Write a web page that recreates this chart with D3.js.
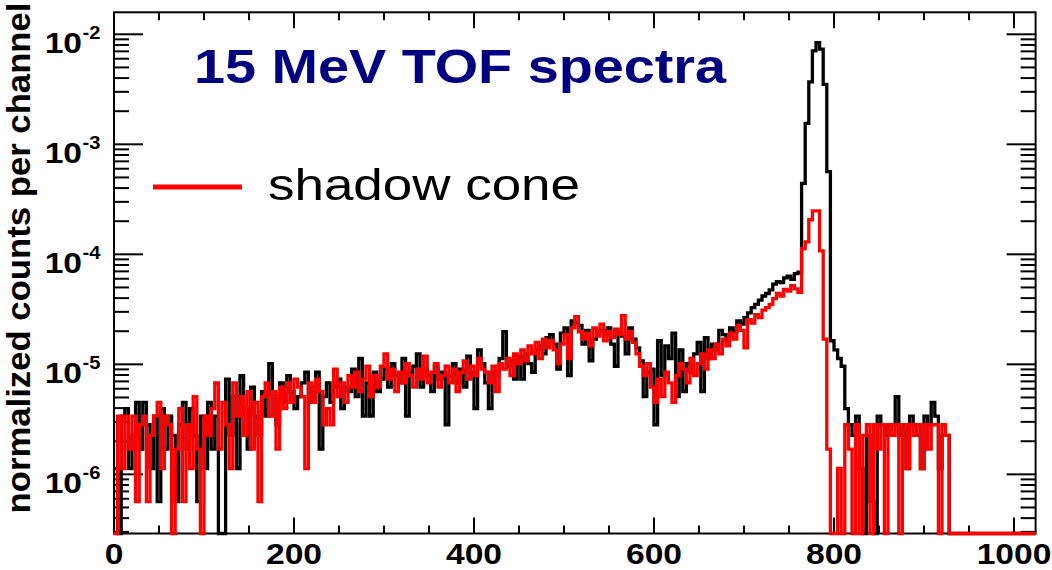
<!DOCTYPE html>
<html>
<head>
<meta charset="utf-8">
<script src="https://cdn.jsdelivr.net/npm/d3@7"></script>
<style>
  body { margin: 0; background: #fff; }
  text { font-family: "Liberation Sans", Arial, sans-serif; }
</style>
</head>
<body>
<svg id="chart" width="1052" height="570"></svg>
<script>
// 1024 TOF channels, histogrammed in 4-channel bins (256 bins).
const binWidth = 4;
const nChannels = 1024;
// normalization applied to raw counts -> "normalized counts per channel"
const countScale = 5.65e-7;

// full spectrum (black), raw counts per bin
const fullCounts = [
  2,0,6,7,2,4,8,3,8,5, 2,6,1,7,3,6,4,1,5,8, 3,7,4,1,6,2,8,3,6,0,
  0,13,4,9,2,14,7,3,11,6, 4,10,6,18,9,5,12,8,14,10, 7,
  9,12,15,8,11,15,3,9,12,8, 11,13,7,11,10,16,9,20,6,12, 6,15,10,13,16,11,18,14,12,20,
  6,15,17,22,11,16,14,10,17,13, 15,5,14,18,12,16,11,21,15,7, 24,18,
  12,7,15,14,20,35,17,19,13,21, 13,22,18,15,24,26,22,31,33,27, 16,34,38,14,44,42,40,27,36,19,
  30,35,36,33,38,27,17,35,32,22, 38,30,25,19,9,15,16,5,29,14, 26,20,34,9,24,
  10,18,15,22,28,10,31,20,27,24, 36,33,29,38,35,44,41,47,52,58, 62,68,74,78,84,95,100,98,108,112, 105,118,122,
  780,2740,6550,12500,14870,13000,6200,1000,29,
  24,20,17,7,5,4,6,2,0,4, 1,0,6,5,4,5,5,9,4,5, 2,6,5,4,2,6,5,8,6,2, 4,4,
  0,0,0,0,0,0,0,0,0,0, 0,0,0,0,0,0,0,0,0,0, 0,0,0,0
];

// shadow cone spectrum (red), raw counts per bin
const coneCounts = [
  0,6,2,6,3,6,1,5,6,1, 4,6,8,2,6,5,0,3,7,1, 5,2,9,3,0,6,4,7,12,3,
  8,5,2,12,6,9,4,10,3,8, 1,9,12,6,10,3,11,7,12,8, 13,
  11,9,2,12,8,13,10,5,7,5, 16,9,12,8,14,11,15,10,13,17, 9,14,11,17,22,13,16,10,15,12,
  18,14,11,16,13,21,12,15,18,11, 14,17,12,16,10,15,19,13,17,14, 20,16,
  15,12,17,10,18,16,20,14,22,18, 24,19,26,22,28,20,30,25,29,24, 18,27,33,20,38,48,35,30,34,26,
  38,32,41,29,35,31,37,33,49,30, 35,28,22,17,14,18,11,8,13,9, 15,12,8,14,18,
  16,12,20,14,18,22,16,24,20,27, 22,30,26,34,30,40,36,25,45,42, 50,47,55,58,62,70,78,74,85,82, 92,86,80,
  200,230,365,440,440,190,30,3,0,
  0,2,0,5,3,0,5,0,4,5, 0,5,3,5,0,5,4,5,0,5, 2,5,4,5,2,5,3,5,5,0, 5,4,
  0,0,0,0,0,0,0,0,0,0, 0,0,0,0,0,0,0,0,0,0, 0,0,0,0
];

const xMajorTicks = [0, 200, 400, 600, 800, 1000];
const xMinorStep = 50;
const yDecadeExponents = [-6, -5, -4, -3, -2];
const yDomain = [2.9e-7, 1.585e-2];

const titleText = "15 MeV TOF spectra";
const legendLabel = "shadow cone";
const yTitle = "normalized counts per channel";

const svg = d3.select("#chart");
const frame = { left: 114, right: 1035.6, top: 12.3, bottom: 533.5 };

const x = d3.scaleLinear().domain([0, nChannels]).range([frame.left, frame.right]);
const y = d3.scaleLog().domain(yDomain).range([frame.bottom, frame.top]);

// ---- frame ----
svg.append("rect")
  .attr("x", frame.left).attr("y", frame.top)
  .attr("width", frame.right - frame.left)
  .attr("height", frame.bottom - frame.top)
  .attr("fill", "none").attr("stroke", "#000").attr("stroke-width", 2);

const ticks = svg.append("g").attr("stroke", "#000").attr("stroke-width", 2);

// x ticks on bottom and top edges
const xMinor = d3.range(0, nChannels + 1, xMinorStep).filter(v => !xMajorTicks.includes(v));
function xTick(v, len) {
  ticks.append("line").attr("x1", x(v)).attr("x2", x(v))
    .attr("y1", frame.bottom).attr("y2", frame.bottom - len);
  ticks.append("line").attr("x1", x(v)).attr("x2", x(v))
    .attr("y1", frame.top).attr("y2", frame.top + len);
}
xMajorTicks.forEach(v => xTick(v, 16));
xMinor.forEach(v => xTick(v, 8));

// y ticks on left and right edges (log decades + 2..9 minors)
function yTick(v, len) {
  ticks.append("line").attr("y1", y(v)).attr("y2", y(v))
    .attr("x1", frame.left).attr("x2", frame.left + len);
  ticks.append("line").attr("y1", y(v)).attr("y2", y(v))
    .attr("x1", frame.right).attr("x2", frame.right - len);
}
const [lo, hi] = yDomain;
for (let e = -7; e <= -2; e++) {
  for (let k = 1; k <= 9; k++) {
    const v = k * Math.pow(10, e);
    if (v < lo || v > hi) continue;
    yTick(v, k === 1 ? 29 : 15);
  }
}

// ---- tick labels ----
const xLabels = svg.append("g");
xMajorTicks.forEach(v => {
  xLabels.append("text")
    .attr("transform", `translate(${x(v)},563.5) scale(1.12,1)`)
    .attr("text-anchor", "middle")
    .attr("font-size", 30).attr("font-weight", "bold")
    .text(v);
});

const yLabels = svg.append("g");
yDecadeExponents.forEach(e => {
  const g = yLabels.append("g")
    .attr("transform", `translate(82,${y(Math.pow(10, e)) + 19}) scale(1.12,1)`);
  g.append("text").attr("text-anchor", "end")
    .attr("font-size", 30).attr("font-weight", "bold").text("10");
  g.append("text").attr("x", 0.5).attr("y", -14)
    .attr("font-size", 18).attr("font-weight", "bold").text(String(e));
});

// y axis title
svg.append("text")
  .attr("transform", "translate(30,258) rotate(-90)")
  .attr("text-anchor", "middle")
  .attr("font-size", 33).attr("font-weight", "bold")
  .attr("textLength", 511).attr("lengthAdjust", "spacingAndGlyphs")
  .text(yTitle);

// ---- histograms ----
function stepPoints(counts) {
  const pts = counts.map((c, i) => [i * binWidth, c * countScale]);
  pts.push([counts.length * binWidth, counts[counts.length - 1] * countScale]);
  return pts;
}
const histLine = d3.line()
  .curve(d3.curveStepAfter)
  .x(d => x(d[0]))
  .y(d => y(Math.max(d[1], lo)));

svg.append("path")
  .datum(stepPoints(fullCounts))
  .attr("d", histLine)
  .attr("fill", "none").attr("stroke", "#000").attr("stroke-width", 3.3);

svg.append("path")
  .datum(stepPoints(coneCounts))
  .attr("d", histLine)
  .attr("fill", "none").attr("stroke", "#ff0000").attr("stroke-width", 3.3);

// ---- title & legend ----
svg.append("text")
  .attr("x", 194).attr("y", 83)
  .attr("font-family", "'DejaVu Sans', Verdana, sans-serif")
  .attr("font-size", 48).attr("font-weight", "bold")
  .attr("fill", "#000080")
  .attr("textLength", 532).attr("lengthAdjust", "spacingAndGlyphs")
  .text(titleText);

svg.append("line")
  .attr("x1", 153).attr("x2", 242).attr("y1", 187).attr("y2", 187)
  .attr("stroke", "#ff0000").attr("stroke-width", 5);

svg.append("text")
  .attr("x", 268).attr("y", 200)
  .attr("font-family", "'DejaVu Sans', Verdana, sans-serif")
  .attr("font-size", 45)
  .attr("fill", "#000")
  .attr("textLength", 312).attr("lengthAdjust", "spacingAndGlyphs")
  .text(legendLabel);
</script>
</body>
</html>
